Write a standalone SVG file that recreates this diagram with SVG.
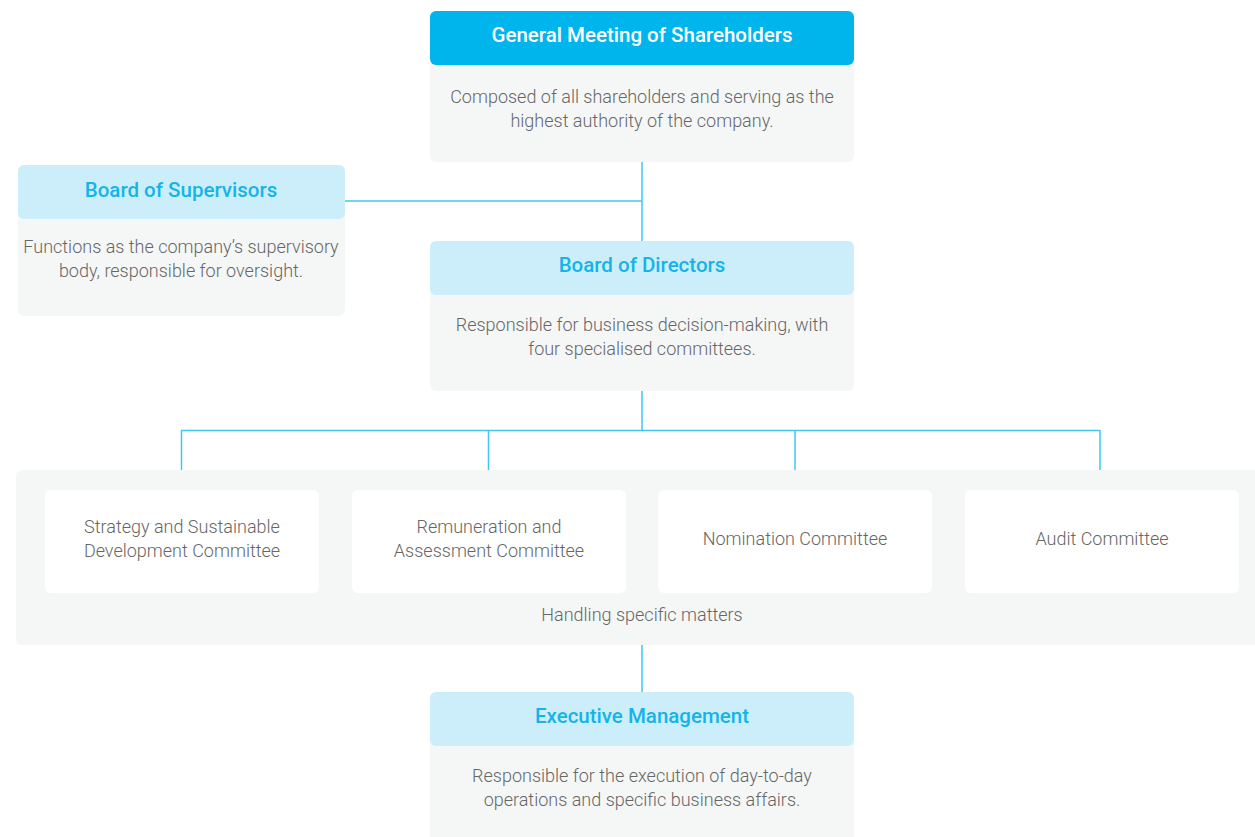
<svg xmlns="http://www.w3.org/2000/svg" width="1255" height="837" viewBox="0 0 1255 837">
  <style>
    .panel { fill: #F5F7F7; }
    .head-main { fill: #00B5EC; }
    .head-sub { fill: #CCEEFA; }
    .card { fill: #FFFFFF; }
    .title { font-family: Roboto, "Liberation Sans", sans-serif; font-weight: 500; font-size: 20.5px; text-anchor: middle; }
    .title-main { fill: #FFFFFF; }
    .title-sub { fill: #14B4EA; }
    .desc { font-family: Roboto, "Liberation Sans", sans-serif; font-weight: 300; font-size: 18px; fill: #666666; text-anchor: middle; }
    .link { stroke: #3FC7F0; stroke-width: 1.5; fill: none; }
  </style>

  <rect width="1255" height="837" fill="#FFFFFF"/>

  <!-- connectors -->
  <g id="connectors">
    <path class="link" d="M642 162 V241"/>
    <path class="link" d="M345 201 H642"/>
    <path class="link" d="M642 391 V430"/>
    <path class="link" d="M181.5 470 V430.5 H1100 V470"/>
    <path class="link" d="M488.5 430 V470"/>
    <path class="link" d="M795 430 V470"/>
    <path class="link" d="M642 645 V692"/>
  </g>

  <!-- General Meeting of Shareholders -->
  <g id="general-meeting">
    <rect class="panel" x="430" y="11" width="424" height="151" rx="6"/>
    <rect class="head-main" x="430" y="11" width="424" height="54" rx="6"/>
    <text class="title title-main" x="642" y="42">General Meeting of Shareholders</text>
    <text class="desc" x="642" y="103">Composed of all shareholders and serving as the</text>
    <text class="desc" x="642" y="127">highest authority of the company.</text>
  </g>

  <!-- Board of Supervisors -->
  <g id="board-of-supervisors">
    <rect class="panel" x="18" y="165" width="327" height="151" rx="6"/>
    <rect class="head-sub" x="18" y="165" width="327" height="54" rx="6"/>
    <text class="title title-sub" x="181" y="197">Board of Supervisors</text>
    <text class="desc" x="181" y="253">Functions as the company’s supervisory</text>
    <text class="desc" x="181" y="277">body, responsible for oversight.</text>
  </g>

  <!-- Board of Directors -->
  <g id="board-of-directors">
    <rect class="panel" x="430" y="241" width="424" height="150" rx="6"/>
    <rect class="head-sub" x="430" y="241" width="424" height="54" rx="6"/>
    <text class="title title-sub" x="642" y="272">Board of Directors</text>
    <text class="desc" x="642" y="331">Responsible for business decision-making, with</text>
    <text class="desc" x="642" y="355">four specialised committees.</text>
  </g>

  <!-- Specialised committees -->
  <g id="committees">
    <rect class="panel" x="16" y="470" width="1260" height="175" rx="6"/>
    <text class="desc" x="642" y="621">Handling specific matters</text>
  </g>
  <g id="committee-strategy">
    <rect class="card" x="45" y="490" width="274" height="103" rx="6"/>
    <text class="desc" x="182" y="533">Strategy and Sustainable</text>
    <text class="desc" x="182" y="557">Development Committee</text>
  </g>
  <g id="committee-remuneration">
    <rect class="card" x="352" y="490" width="274" height="103" rx="6"/>
    <text class="desc" x="489" y="533">Remuneration and</text>
    <text class="desc" x="489" y="557">Assessment Committee</text>
  </g>
  <g id="committee-nomination">
    <rect class="card" x="658" y="490" width="274" height="103" rx="6"/>
    <text class="desc" x="795" y="545">Nomination Committee</text>
  </g>
  <g id="committee-audit">
    <rect class="card" x="965" y="490" width="274" height="103" rx="6"/>
    <text class="desc" x="1102" y="545">Audit Committee</text>
  </g>

  <!-- Executive Management -->
  <g id="executive-management">
    <rect class="panel" x="430" y="692" width="424" height="160" rx="6"/>
    <rect class="head-sub" x="430" y="692" width="424" height="54" rx="6"/>
    <text class="title title-sub" x="642" y="723">Executive Management</text>
    <text class="desc" x="642" y="782">Responsible for the execution of day-to-day</text>
    <text class="desc" x="642" y="806">operations and specific business affairs.</text>
  </g>
</svg>
